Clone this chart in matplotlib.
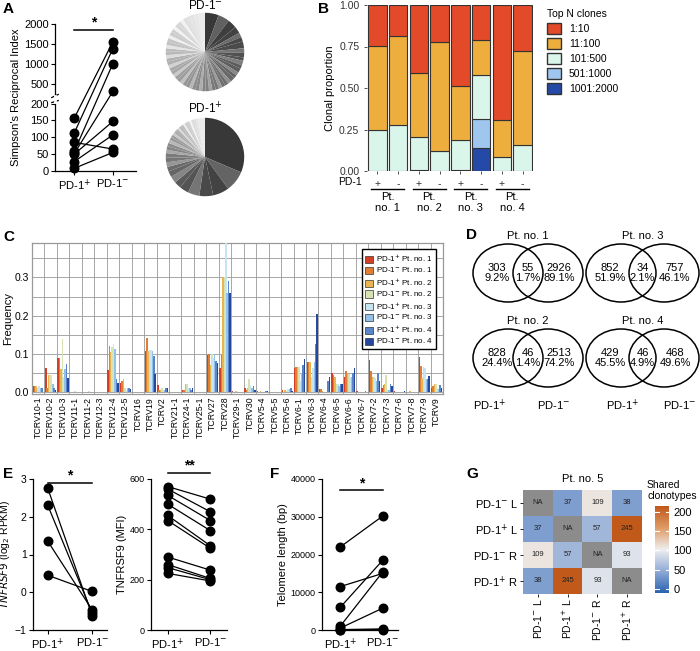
import numpy as np
import matplotlib
matplotlib.use("Agg")
import matplotlib.pyplot as plt
from matplotlib.patches import Ellipse, Patch
from matplotlib.colors import LinearSegmentedColormap, Normalize
from matplotlib.cm import ScalarMappable

plt.rcParams['font.family'] = ['Liberation Sans', 'DejaVu Sans']
plt.rcParams['font.size'] = 7.5
plt.rcParams['axes.linewidth'] = 0.9

W, H = 700, 651
fig = plt.figure(figsize=(7, 6.51), dpi=100)


def box(x0, y0, x1, y1):
    # pixel box (top-left origin) -> figure axes
    return fig.add_axes([x0 / W, 1 - y1 / H, (x1 - x0) / W, (y1 - y0) / H])


def label(x, y, s):
    fig.text(x / W, 1 - y / H, s, fontsize=11, fontweight='bold', va='top', ha='left')


PLUS = 'PD-1$^{+}$'
MINUS = 'PD-1$^{-}$'

# ---------------- data ----------------
simpson_pos = [157, 113, 85, 58, 52, 50, 28, 8]
simpson_neg = [1550, 1380, 65, 1000, 300, 147, 107, 55]

pie_neg = [6, 5, 4, 3, 2, 2, 3, 2, 2, 1.5, 2, 1.5, 2, 1.5, 1.5, 2, 1.5, 1.5, 1.5, 1.5,
           1.5, 1.5, 1.5, 1.5, 1.5, 1.5, 1.5, 1.5, 1.5, 1.5, 1.5, 1.5, 1.5, 1.5, 1.5,
           1.5, 1.5, 1.5, 1.5, 1.5, 1.5, 1.5, 1.5, 1.5, 1.5, 1.5, 1.5, 1.5, 1.5, 1.5,
           1.5, 1.5, 1.5, 1.5, 1.5, 2, 2, 3]
pie_pos = [33, 9, 7, 6, 5, 4, 3, 3, 2.5, 2, 2, 2, 2, 1.5, 1.5, 1.5, 1.5, 1.2, 1.2, 1.2,
           1, 1, 1, 1, 1, 1, 1, 1, 1, 1, 1, 1, 3]

clone_groups = ['1:10', '11:100', '101:500', '501:1000', '1001:2000']
clone_colors = ['#E24A29', '#EDAE3E', '#DAF5EA', '#9EC6EE', '#2449A6']
# fractions per bar, bottom group first: 1001:2000, 501:1000, 101:500, 11:100, 1:10
clone_1001 = [0.0, 0.0, 0.003, 0.0, 0.003, 0.14, 0.0, 0.0]
clone_501 = [0.0, 0.0, 0.004, 0.0, 0.005, 0.175, 0.0, 0.0]
clone_101 = [0.25, 0.275, 0.198, 0.12, 0.177, 0.265, 0.085, 0.155]
clone_11 = [0.505, 0.54, 0.385, 0.66, 0.33, 0.21, 0.22, 0.565]
clone_1 = [0.245, 0.185, 0.41, 0.22, 0.485, 0.21, 0.695, 0.28]
bar_sign = ['+', '-', '+', '-', '+', '-', '+', '-']
patients = ['Pt.\nno. 1', 'Pt.\nno. 2', 'Pt.\nno. 3', 'Pt.\nno. 4']

tcrv_genes = ['TCRV10-1', 'TCRV10-2', 'TCRV10-3', 'TCRV11-1', 'TCRV11-2', 'TCRV12-3',
              'TCRV12-4', 'TCRV12-5', 'TCRV16', 'TCRV19', 'TCRV2', 'TCRV21-1', 'TCRV24-1',
              'TCRV25-1', 'TCRV27', 'TCRV28', 'TCRV29-1', 'TCRV30', 'TCRV5-4', 'TCRV5-5',
              'TCRV5-6', 'TCRV6-1', 'TCRV6-3', 'TCRV6-4', 'TCRV6-5', 'TCRV6-6', 'TCRV6-7',
              'TCRV7-2', 'TCRV7-3', 'TCRV7-6', 'TCRV7-8', 'TCRV7-9', 'TCRV9']
tcrv_series = ['PD-1$^{+}$ Pt. no. 1', 'PD-1$^{-}$ Pt. no. 1', 'PD-1$^{+}$ Pt. no. 2',
               'PD-1$^{-}$ Pt. no. 2', 'PD-1$^{+}$ Pt. no. 3', 'PD-1$^{-}$ Pt. no. 3',
               'PD-1$^{+}$ Pt. no. 4', 'PD-1$^{-}$ Pt. no. 4']
tcrv_colors = ['#D23F26', '#E07E36', '#E9B550', '#D7E2B2', '#C7E5F0', '#93C1EA',
               '#5A86C9', '#2447A0']
tcrv_freq = [
    [.015, .015, .015, .01, .015, .01, .01, .0],
    [.062, .012, .045, .045, .045, .02, .01, .005],
    [.09, .088, .06, .138, .04, .06, .073, .036],
    [0, 0, 0, .002, 0, 0, 0, 0],
    [0, 0, 0, 0, .002, 0, .001, 0],
    [0, 0, 0, 0, 0, 0, 0, .001],
    [.057, .121, .105, .118, .125, .112, .034, .023],
    [.023, .03, .033, .01, .005, .01, .012, .008],
    [0, 0, 0, 0, 0, 0, 0, .001],
    [.108, .141, .108, .11, .11, .108, .094, .048],
    [.018, .005, .005, .01, .005, .005, .01, .01],
    [0, 0, 0, 0, 0, 0, .001, 0],
    [.005, .005, .02, .02, .01, .01, .005, .012],
    [0, 0, 0, 0, 0, 0, 0, 0],
    [.097, .1, .07, .1, .09, .1, .082, .076],
    [.062, .099, .301, .3, .39, .26, .29, .26],
    [.002, 0, .002, .002, 0, 0, 0, 0],
    [.012, .005, .01, .035, .018, .012, .015, .005],
    [.002, 0, .002, 0, 0, .001, .002, .002],
    [0, 0, 0, 0, 0, 0, 0, 0],
    [.005, 0, .005, .003, .008, .008, .01, .004],
    [.063, .065, .065, .065, .03, .05, .072, .087],
    [.08, .08, .08, .04, .062, .08, .125, .205],
    [.008, .008, .002, 0, 0, 0, .028, .04],
    [.05, .045, .04, .02, .02, .015, .02, .02],
    [.04, .055, .05, .048, .04, .04, .05, .062],
    [.003, 0, 0, 0, 0, 0, .002, 0],
    [.084, .055, .04, .04, .038, .03, .05, .03],
    [.01, .018, .02, .045, .005, .005, .02, .015],
    [.002, 0, 0, 0, 0, 0, 0, .002],
    [0, 0, .002, 0, 0, 0, 0, 0],
    [.093, .068, .038, .065, .063, .033, .033, .043],
    [.01, .016, .02, .022, .01, .008, .018, .01],
]

venn_titles = ['Pt. no. 1', 'Pt. no. 3', 'Pt. no. 2', 'Pt. no. 4']
venn_left = ['303\n9.2%', '852\n51.9%', '828\n24.4%', '429\n45.5%']
venn_mid = ['55\n1.7%', '34\n2.1%', '46\n1.4%', '46\n4.9%']
venn_right = ['2926\n89.1%', '757\n46.1%', '2513\n74.2%', '468\n49.6%']

rpkm_pos = [2.75, 2.3, 1.35, 0.45]
rpkm_neg = [-0.62, -0.55, -0.47, 0.02]
mfi_pos = [570, 560, 535, 500, 455, 435, 290, 260, 248, 225]
mfi_neg = [520, 470, 435, 395, 335, 325, 238, 205, 200, 195]
telo_pos = [22000, 11500, 6000, 1000, 500, 100, 0]
telo_neg = [30200, 15000, 18500, 15400, 5800, 300, 100]

heat_labels = ['PD-1$^{-}$ L', 'PD-1$^{+}$ L', 'PD-1$^{-}$ R', 'PD-1$^{+}$ R']
heat_vals = [[np.nan, 37, 109, 38],
             [37, np.nan, 57, 245],
             [109, 57, np.nan, 93],
             [38, 245, 93, np.nan]]


def paired(ax, a, b, xs=(0, 1)):
    for u, v in zip(a, b):
        ax.plot(xs, [u, v], color='black', lw=0.9, zorder=2)
    ax.scatter([xs[0]] * len(a) + [xs[1]] * len(b), list(a) + list(b),
               s=38, color='black', zorder=3, clip_on=False)
    ax.spines[['top', 'right']].set_visible(False)
    ax.set_xticks(xs)
    ax.set_xticklabels([PLUS, MINUS], fontsize=8)
    ax.tick_params(length=3, width=0.8, pad=1.5)


def sigbar(ax, y, txt, x0=0, x1=1):
    ax.plot([x0, x1], [y, y], color='black', lw=1.1, clip_on=False)
    ax.text((x0 + x1) / 2, y, txt, ha='center', va='bottom', fontsize=10, fontweight='bold')


# ---------------- A ----------------
label(3, 2, 'A')
axA = box(55, 24, 136, 171)
knots_x = [0, 200, 250, 2000]
knots_f = [0, 1, 1.15, 2.18]
axA.set_yscale('function', functions=(lambda y: np.interp(y, knots_x, knots_f, left=-1, right=3),
                                      lambda f: np.interp(f, knots_f, knots_x)))
paired(axA, simpson_pos, simpson_neg, xs=(0.25, 0.75))
axA.set_xlim(0, 1.05)
axA.set_ylim(0, 2000)
axA.set_yticks([0, 50, 100, 150, 200, 500, 1000, 1500, 2000])
axA.tick_params(axis='y', labelsize=8)
axA.set_ylabel("Simpson's Reciprocal Index", fontsize=8, labelpad=2)
# axis break
axA.plot([-0.04, 0.04], [205, 215], color='black', lw=0.9, transform=axA.get_yaxis_transform(), clip_on=False)
axA.plot([-0.04, 0.04], [230, 245], color='black', lw=0.9, transform=axA.get_yaxis_transform(), clip_on=False)
axA.plot([0, 0], [210, 238], color='white', lw=2, transform=axA.get_yaxis_transform(), clip_on=False, zorder=5)
sigbar(axA, 1850, '*', 0.25, 0.75)

for pie_vals, cy, title in [(pie_neg, 52, MINUS), (pie_pos, 157, PLUS)]:
    axp = box(165, cy - 40, 245, cy + 40)
    n = len(pie_vals)
    grays = []
    for i in range(n):
        g = 0.22 + 0.7 * i / (n - 1)
        if i % 3 == 1 and i < n - 4:
            g += 0.15
        grays.append(str(round(min(g, 0.95), 3)))
    axp.pie(pie_vals, colors=grays, startangle=90, counterclock=False,
            wedgeprops=dict(linewidth=0), radius=1)
    axp.set_xlim(-1.02, 1.02)
    axp.set_ylim(-1.02, 1.02)
    axp.set_aspect('equal')
    axp.set_title(title, fontsize=8.5, pad=2)

# ---------------- B ----------------
label(318, 2, 'B')
axB = box(367, 5, 533, 171)
xb = np.arange(8)
bottom = np.zeros(8)
stack = [clone_1001, clone_501, clone_101, clone_11, clone_1]
stack_cols = clone_colors[::-1]
for vals, c in zip(stack, stack_cols):
    axB.bar(xb, vals, bottom=bottom, width=0.9, color=c, edgecolor='#333333', linewidth=0.8)
    bottom += np.array(vals)
axB.set_xlim(-0.5, 7.5)
axB.set_ylim(0, 1)
axB.set_yticks([0, 0.25, 0.5, 0.75, 1.0])
axB.set_yticklabels(['0.00', '0.25', '0.50', '0.75', '1.00'])
axB.set_xticks(xb)
axB.set_xticklabels(bar_sign, fontsize=7.5)
axB.tick_params(length=2, width=0.6, colors='#333333')
for s in axB.spines.values():
    s.set_visible(False)
axB.set_ylabel('Clonal proportion', fontsize=8, labelpad=3)
axB.text(-1.9, -0.035, 'PD-1', ha='left', va='top', transform=axB.transData, fontsize=7.5)
for i, p in enumerate(patients):
    axB.plot([2 * i - 0.3, 2 * i + 1.3], [-0.11, -0.11], color='black', lw=1, clip_on=False)
    axB.text(2 * i + 0.5, -0.125, p, ha='center', va='top', fontsize=8, linespacing=1.1)
axB.legend(handles=[Patch(facecolor=c, edgecolor='#333333', label=g) for g, c in zip(clone_groups, clone_colors)],
           title='Top N clones', loc='upper left', bbox_to_anchor=(1.06, 1.0), frameon=False,
           fontsize=7.5, title_fontsize=7.5, handlelength=1.3, handleheight=1.3, alignment='left',
           borderaxespad=0, labelspacing=0.35)

# ---------------- C ----------------
label(3, 230, 'C')
axC = box(32, 243, 443, 394)
nser = len(tcrv_series)
bw = 0.9 / nser
xc = np.arange(len(tcrv_genes))
freq = np.array(tcrv_freq)
for j in range(nser):
    axC.bar(xc - 0.45 + bw * (j + 0.5), freq[:, j], width=bw * 1.15, color=tcrv_colors[j],
            label=tcrv_series[j], linewidth=0, zorder=3)
axC.set_xlim(-0.5, len(tcrv_genes) - 0.5)
axC.set_ylim(-0.005, 0.39)
axC.set_xticks(xc)
axC.set_xticklabels(tcrv_genes, rotation=90, fontsize=6.3)
axC.set_xticks(xc + 0.5, minor=True)
axC.set_yticks([0.0, 0.1, 0.2, 0.3])
axC.set_yticks(np.arange(0.05, 0.39, 0.05), minor=True)
axC.grid(True, which='minor', color='#999999', lw=0.6, zorder=0)
axC.grid(True, which='major', axis='y', color='#999999', lw=0.6, zorder=0)
axC.tick_params(which='both', length=0, pad=2)
axC.tick_params(axis='y', labelsize=7.5)
for s in axC.spines.values():
    s.set_color('#999999')
axC.set_ylabel('Frequency', fontsize=8, labelpad=1)
legC = axC.legend(loc='upper right', fontsize=5.8, frameon=True, fancybox=False, handlelength=1.0,
                  handleheight=1.0, labelspacing=0.15, borderpad=0.4, handletextpad=0.3,
                  bbox_to_anchor=(0.993, 0.985))
legC.get_frame().set_edgecolor('black')
legC.get_frame().set_linewidth(1)
legC.get_frame().set_alpha(1)
for h in legC.legend_handles:
    h.set_edgecolor('#333333')
    h.set_linewidth(0.5)

# ---------------- D ----------------
label(466, 228, 'D')
axD = box(470, 225, 700, 430)
axD.set_xlim(470, 700)
axD.set_ylim(430, 225)
axD.axis('off')
centers = [(273, 508, 548), (273, 621, 664), (358, 508, 548), (358, 621, 664)]
for (cy, xl, xr), t, l, m, r in zip(centers, venn_titles, venn_left, venn_mid, venn_right):
    for cx in (xl, xr):
        axD.add_patch(Ellipse((cx, cy), 70, 58, fill=False, lw=1.1, ec='black'))
    axD.text((xl + xr) / 2, cy - 32, t, ha='center', va='bottom', fontsize=8)
    axD.text(xl - 11, cy, l, ha='center', va='center', fontsize=8, linespacing=1.05)
    axD.text((xl + xr) / 2, cy, m, ha='center', va='center', fontsize=8, linespacing=1.05)
    axD.text(xr + 11, cy, r, ha='center', va='center', fontsize=8, linespacing=1.05)
for x, s in [(490, PLUS), (554, MINUS), (623, PLUS), (680, MINUS)]:
    axD.text(x, 405, s, ha='center', va='center', fontsize=8)

# ---------------- E ----------------
label(3, 467, 'E')
axE1 = box(33, 479, 107, 630)
paired(axE1, rpkm_pos, rpkm_neg, xs=(0.2, 0.8))
axE1.set_xlim(0, 1)
axE1.set_ylim(-1, 3)
axE1.set_yticks([-1, 0, 1, 2, 3])
axE1.set_ylabel('$TNFRSF9$ (log$_2$ RPKM)', fontsize=7.5, labelpad=2)
sigbar(axE1, 2.9, '*', 0.2, 0.8)

axE2 = box(151, 479, 227, 630)
paired(axE2, mfi_pos, mfi_neg, xs=(0.22, 0.78))
axE2.set_xlim(0, 1)
axE2.set_ylim(0, 600)
axE2.set_yticks([0, 200, 400, 600])
axE2.tick_params(axis='y', labelsize=6.5)
axE2.set_ylabel('TNFRSF9 (MFI)', fontsize=8, labelpad=2)
sigbar(axE2, 625, '**', 0.22, 0.78)

# ---------------- F ----------------
label(270, 467, 'F')
axF = box(322, 479, 398, 630)
paired(axF, telo_pos, telo_neg, xs=(0.24, 0.8))
axF.set_xlim(0, 1)
axF.set_ylim(0, 40000)
axF.set_yticks([0, 10000, 20000, 30000, 40000])
axF.tick_params(axis='y', labelsize=6.5)
axF.set_ylabel('Telomere length (bp)', fontsize=8, labelpad=2)
sigbar(axF, 37000, '*', 0.24, 0.8)

# ---------------- G ----------------
label(466, 467, 'G')
axG = box(523, 490, 642, 594)
cmap = LinearSegmentedColormap.from_list('bwo', ['#2A63AE', '#8FAAD6', '#EEEEEE', '#DE9A66', '#C0591A'])
norm = Normalize(-10, 215)
vals = np.array(heat_vals, dtype=float)
axG.imshow(np.ma.masked_invalid(vals), cmap=cmap, norm=norm, aspect='auto')
axG.imshow(np.where(np.isnan(vals), 1.0, np.nan), cmap=LinearSegmentedColormap.from_list('g', ['#8C8C8C', '#8C8C8C']),
           aspect='auto')
for i in range(4):
    for j in range(4):
        v = vals[i, j]
        axG.text(j, i, 'NA' if np.isnan(v) else str(int(v)), ha='center', va='center', fontsize=5.5,
                 color='#222222')
axG.set_xticks(range(4))
axG.set_xticklabels(heat_labels, rotation=90, fontsize=7.5)
axG.set_yticks(range(4))
axG.set_yticklabels(heat_labels, fontsize=8)
axG.tick_params(length=2, width=0.6, pad=1.5)
for s in axG.spines.values():
    s.set_visible(False)
axG.set_title('Pt. no. 5', fontsize=8, pad=6)

axCb = box(655, 506, 669, 593)
cb = fig.colorbar(ScalarMappable(norm=norm, cmap=cmap), cax=axCb, ticks=[0, 50, 100, 150, 200])
cb.outline.set_visible(False)
cb.ax.tick_params(length=0, labelsize=8, pad=3)
for t in [0, 50, 100, 150, 200]:
    axCb.plot([0, 0.25], [t, t], color='white', lw=0.8, transform=axCb.get_yaxis_transform())
    axCb.plot([0.75, 1], [t, t], color='white', lw=0.8, transform=axCb.get_yaxis_transform())
fig.text(647 / W, 1 - 480 / H, 'Shared\nclonotypes', fontsize=7.5, va='top', ha='left', linespacing=1.1)

fig.savefig('out.png', dpi=100)
